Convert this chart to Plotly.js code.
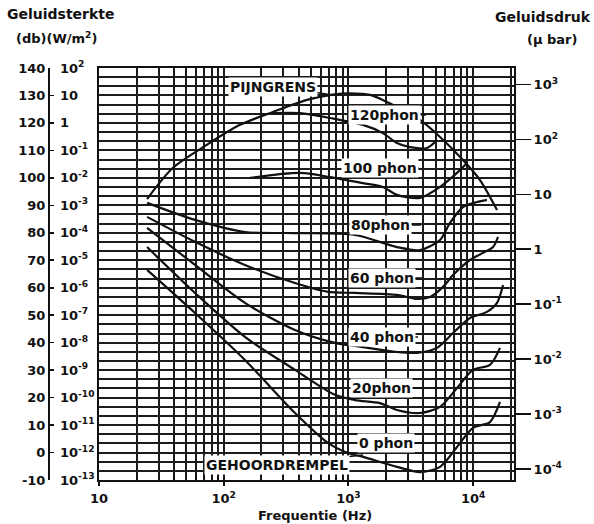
<!DOCTYPE html>
<html>
<head>
<meta charset="utf-8">
<script src="https://cdn.plot.ly/plotly-3.0.1.min.js"></script>
<style>html,body{margin:0;padding:0;background:#fff;}#chart{width:594px;height:524px;}</style>
</head>
<body>
<div id="chart"></div>
<script>
// ---- data (frequency in Hz, level in dB) ----
const painF   = [24.3, 39, 73, 135, 248, 466, 750, 1030, 1490, 2450, 3750, 5430, 8300, 11360, 15560];
const painDb  = [92.3, 103.6, 112, 119.3, 124, 128.4, 130.3, 130.8, 130.2, 125.8, 121.1, 114.9, 106.5, 99.2, 88.3];

const p120F  = [248, 409, 711, 1310, 1890, 2450, 3120, 4270, 5130];
const p120Db = [123.6, 123.6, 121.8, 119.3, 116.3, 112.7, 111.2, 110.9, 113.8];

const p100F  = [163, 409, 711, 1310, 1890, 2450, 3750, 5430, 7430, 8940];
const p100Db = [100, 101.8, 100.3, 98.1, 96.7, 93.8, 92.7, 96.7, 101.8, 105.4];

const p80F   = [24.3, 58.9, 148, 373, 1130, 2450, 3750, 5430, 6530, 8300, 10740, 12900];
const p80Db  = [90.9, 84.7, 80.3, 79.9, 79.2, 74.8, 73.7, 77.4, 83.6, 89.4, 91.2, 92.0];

const p60F   = [24.3, 58.9, 148, 373, 686, 1130, 2450, 3550, 4510, 5740, 6900, 9440, 12000, 14450, 15850];
const p60Db  = [85.8, 76.7, 68.3, 61.7, 58.5, 58.1, 57.4, 55.9, 56.6, 60.3, 64.6, 70.1, 72.7, 74.8, 78.5];

const p40F   = [24.3, 58.9, 148, 373, 781, 1310, 2450, 3550, 5130, 6900, 9440, 12900, 15560, 17380];
const p40Db  = [81.8, 68.3, 54.5, 44.6, 39.9, 38.4, 36.6, 36.3, 38.1, 43.5, 49.0, 51.2, 54.5, 61.0];

const p20F   = [24.3, 58.9, 148, 373, 781, 1130, 1790, 2450, 3750, 5430, 7430, 9980, 13650, 16430];
const p20Db  = [74.8, 58.1, 42.1, 30.1, 21.0, 19.1, 18.0, 15.5, 14.4, 16.6, 23.5, 30.1, 31.9, 38.1];

const p0F    = [24.3, 58.9, 148, 373, 686, 993, 1310, 2450, 3750, 5430, 7430, 9980, 13650, 16430];
const p0Db   = [66.5, 50.8, 33.7, 14.4, 3.5, -0.2, -1.6, -5.2, -7.1, -5.2, 2.0, 9.0, 11.1, 18.4];

// ---- axis ticks / labels ----
const freqTicks  = [10, 100, 1000, 10000];
const freqLabels = ['10', '10<sup>2</sup>', '10<sup>3</sup>', '10<sup>4</sup>'];
const freqGrid   = [20,30,40,50,60,70,80,90,200,300,400,500,600,700,800,900,2000,3000,4000,5000,6000,7000,8000,9000,20000];

const dbTicks  = [140,130,120,110,100,90,80,70,60,50,40,30,20,10,0,-10];
const dbLabels = ['140','130','120','110','100','90','80','70','60','50','40','30','20','10','0','-10'];
const intensityLabels = ['10<sup>2</sup>','10','1','10<sup>-1</sup>','10<sup>-2</sup>','10<sup>-3</sup>','10<sup>-4</sup>','10<sup>-5</sup>','10<sup>-6</sup>','10<sup>-7</sup>','10<sup>-8</sup>','10<sup>-9</sup>','10<sup>-10</sup>','10<sup>-11</sup>','10<sup>-12</sup>','10<sup>-13</sup>'];

const pressureDb     = [134, 114, 94, 74, 54, 34, 14, -6];
const pressureLabels = ['10<sup>3</sup>','10<sup>2</sup>','10','1','10<sup>-1</sup>','10<sup>-2</sup>','10<sup>-3</sup>','10<sup>-4</sup>'];

const curveNames = ['Pijngrens','120 phon','100 phon','80 phon','60 phon','40 phon','20 phon','0 phon'];
const curveF  = [painF, p120F, p100F, p80F, p60F, p40F, p20F, p0F];
const curveDb = [painDb, p120Db, p100Db, p80Db, p60Db, p40Db, p20Db, p0Db];

const INK = '#111';
const GRID = '#1c1c1c';
const FONT = 'DejaVu Sans, sans-serif';

const traces = curveF.map((f, i) => ({
  type: 'scatter', mode: 'lines', name: curveNames[i],
  x: f, y: curveDb[i], xaxis: 'x', yaxis: 'y',
  line: {color: INK, width: 2.2, shape: 'spline', smoothing: 0.8},
  hoverinfo: 'skip'
}));
// helper traces so that the overlay axes are drawn
[['x2','y'],['x3','y'],['x','y2'],['x','y3'],['x','y4']].forEach(p => traces.push(
  {type:'scatter', mode:'lines', x:[null], y:[null], xaxis:p[0], yaxis:p[1], hoverinfo:'skip', showlegend:false}));

const W = 594, H = 524;
const xDom = [99 / W, 514 / W];
const yDom = [44 / H, 456 / H];
const xRange = [1, 4.328];
const yRange = [-10, 140];

const labelFont = {family: FONT, size: 14, color: INK, weight: 'bold'};
function lab(text, lx, ly, ax, ay) {
  return {text: text, x: lx, y: ly, xref: 'x', yref: 'y', axref: 'pixel', ayref: 'pixel',
    ax: ax, ay: ay, showarrow: true, arrowhead: 0, arrowwidth: 1.5, arrowcolor: INK,
    bgcolor: '#fff', borderpad: 1, font: labelFont};
}
function ptxt(text, px, py, size, anchor) {
  return {text: text, x: px / W, y: 1 - py / H, xref: 'paper', yref: 'paper', showarrow: false,
    xanchor: anchor || 'center', yanchor: 'middle', font: {family: FONT, size: size, color: INK, weight: 'bold'}};
}
const tickFont = {family: FONT, size: 13, color: INK, weight: 'bold'};

const layout = {
  width: W, height: H,
  margin: {l: 0, r: 0, t: 0, b: 0, pad: 0},
  paper_bgcolor: '#fff', plot_bgcolor: '#fff',
  showlegend: false,
  font: {family: FONT, color: INK, size: 13},
  xaxis: {type: 'log', domain: xDom, range: xRange, anchor: 'y',
    tickmode: 'array', tickvals: freqTicks, showticklabels: false,
    ticks: 'outside', ticklen: 4, tickwidth: 2, tickcolor: INK,
    showgrid: true, gridcolor: GRID, gridwidth: 2,
    showline: true, mirror: true, linecolor: INK, linewidth: 2.2, zeroline: false},
  xaxis2: {type: 'log', overlaying: 'x', range: xRange, anchor: 'y', side: 'bottom',
    tickmode: 'array', tickvals: freqGrid, showticklabels: false,
    ticks: 'inside', ticklen: 5, tickwidth: 1.2, tickcolor: INK,
    showgrid: true, gridcolor: GRID, gridwidth: 2, showline: false, zeroline: false},
  xaxis3: {type: 'log', overlaying: 'x', range: xRange, anchor: 'free', position: (H - 489) / H, side: 'bottom',
    tickmode: 'array', tickvals: freqTicks, ticktext: freqLabels, tickfont: tickFont,
    ticks: '', showgrid: false, showline: false, zeroline: false},
  yaxis: {domain: yDom, range: yRange, anchor: 'x',
    tickmode: 'linear', tick0: -10, dtick: 10 / 3, showticklabels: false, ticks: '',
    showgrid: true, gridcolor: GRID, gridwidth: 2,
    showline: true, mirror: true, linecolor: INK, linewidth: 2.2, zeroline: false},
  yaxis2: {overlaying: 'y', anchor: 'free', position: 48 / W, side: 'left', range: yRange,
    tickmode: 'array', tickvals: dbTicks, ticktext: dbLabels, tickfont: tickFont,
    ticks: 'inside', ticklen: 4, tickwidth: 1.6, tickcolor: INK,
    showline: true, linecolor: INK, linewidth: 1.8, showgrid: false, zeroline: false},
  yaxis3: {overlaying: 'y', anchor: 'free', position: 59 / W, side: 'right', range: yRange,
    tickmode: 'array', tickvals: dbTicks, ticktext: intensityLabels, tickfont: tickFont,
    ticks: '', showline: false, showgrid: false, zeroline: false},
  yaxis4: {overlaying: 'y', anchor: 'x', side: 'right', range: yRange,
    tickmode: 'array', tickvals: pressureDb, ticktext: pressureLabels, tickfont: tickFont,
    ticks: 'outside', ticklen: 16, tickwidth: 1.6, tickcolor: INK,
    showline: false, showgrid: false, zeroline: false},
  annotations: [
    ptxt('Geluidsterkte', 5, 14, 14, 'left'),
    ptxt('(db)(W/m<sup>2</sup>)', 14, 38, 13, 'left'),
    ptxt('Geluidsdruk', 593, 17, 14, 'right'),
    ptxt('(\u03bc bar)', 552, 39, 13, 'center'),
    ptxt('Frequentie (Hz)', 315, 515, 13, 'center'),
    lab('PIJNGRENS', 2.876, 130.2, -60, -8),
    lab('120phon', 3.622, 122.9, -41, 0),
    lab('100 phon', 3.566, 103.6, -39, 0),
    lab('80phon', 3.582, 82.85, -40, 0),
    lab('60 phon', 3.590, 63.55, -40, 0),
    lab('40 phon', 3.558, 42.08, -36, 0),
    lab('20phon', 3.590, 23.51, -40, 0),
    lab('0 phon', 3.590, 3.49, -36, 0),
    lab('GEHOORDREMPEL', 3.117, -0.88, -86, 10)
  ]
};

Plotly.newPlot('chart', traces, layout, {staticPlot: true, displayModeBar: false});
</script>
</body>
</html>
